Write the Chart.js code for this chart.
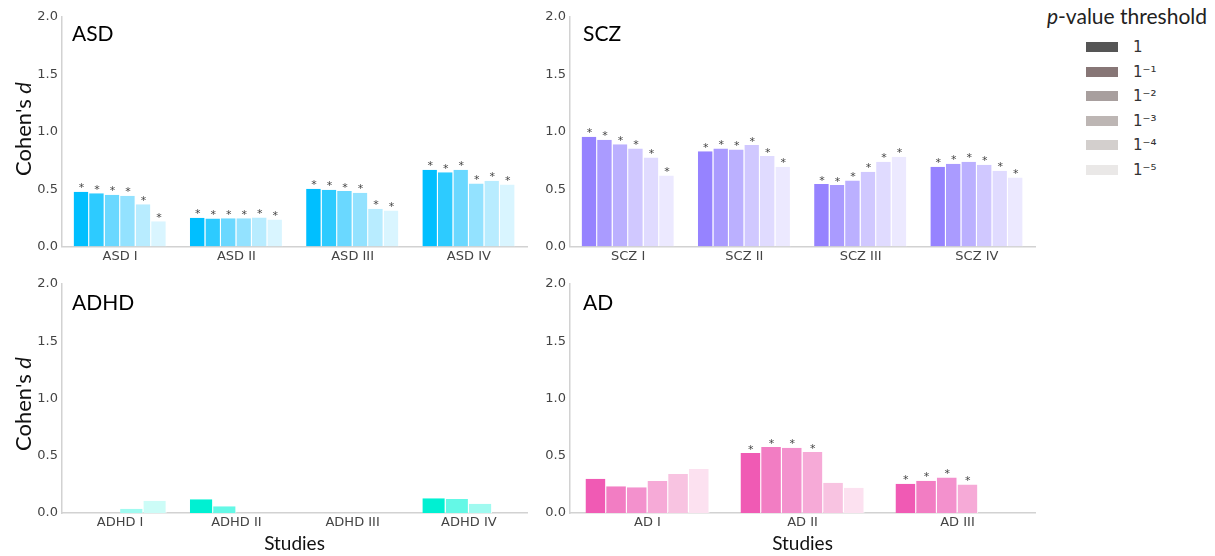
<!DOCTYPE html>
<html>
<head>
<meta charset="utf-8">
<script src="https://cdn.jsdelivr.net/npm/chart.js@4.4.1/dist/chart.umd.min.js"></script>
<style>
  body { margin: 0; background: #fff; width: 1215px; height: 556px; position: relative; overflow: hidden; font-family: Lato, sans-serif; }
  canvas { position: absolute; }
  .name { position: absolute; font: 21px Lato, sans-serif; line-height: 21px; color: #000; }
  .ylab { position: absolute; width: 160px; height: 26px; line-height: 26px; text-align: center; font: 22px Lato, sans-serif; color: #111; transform: rotate(-90deg); white-space: nowrap; }
  #legend { position: absolute; left: 1040px; top: 0; width: 175px; }
  #legend .title { position: absolute; right: 8px; top: 3px; font: 21px Lato, sans-serif; color: #222; white-space: nowrap; }
  #legend .row { position: absolute; left: 46px; height: 20px; }
  #legend .sw { position: absolute; left: 0; top: 5px; width: 32px; height: 10px; }
  #legend .lbl { position: absolute; left: 47px; top: 0; font: 15px "DejaVu Sans", sans-serif; line-height: 20px; color: #333; white-space: nowrap; }
</style>
</head>
<body>
<canvas id="asd" width="535" height="268" style="left:0;top:0"></canvas>
<canvas id="scz" width="535" height="268" style="left:508px;top:0"></canvas>
<canvas id="adhd" width="535" height="286" style="left:0;top:270px"></canvas>
<canvas id="ad" width="535" height="286" style="left:508px;top:270px"></canvas>

<div class="name" style="left:72px;top:22px">ASD</div>
<div class="name" style="left:583px;top:22px">SCZ</div>
<div class="name" style="left:72px;top:291px">ADHD</div>
<div class="name" style="left:583px;top:291px">AD</div>

<div class="ylab" style="left:-58px;top:116px">Cohen's <i>d</i></div>
<div class="ylab" style="left:-58px;top:391px">Cohen's <i>d</i></div>

<div id="legend"><div class="title"><i>p</i>-value threshold</div></div>

<script>
// thresholds (legend)
const thresholdLabels = ["1", "1\u207B\u00B9", "1\u207B\u00B2", "1\u207B\u00B3", "1\u207B\u2074", "1\u207B\u2075"];
const legendColors = ["#555555", "#877676", "#A89F9E", "#BDB6B4", "#D3CFCD", "#EAE8E7"];

// ASD
const asdStudies = ["ASD I", "ASD II", "ASD III", "ASD IV"];
const asdP0 = [0.477, 0.250, 0.503, 0.669];
const asdP1 = [0.465, 0.244, 0.494, 0.648];
const asdP2 = [0.451, 0.247, 0.483, 0.669];
const asdP3 = [0.442, 0.247, 0.468, 0.549];
const asdP4 = [0.369, 0.253, 0.328, 0.573];
const asdP5 = [0.221, 0.235, 0.314, 0.541];
const asdStars = [[1, 1, 1, 1], [1, 1, 1, 1], [1, 1, 1, 1], [1, 1, 1, 1], [1, 1, 1, 1], [1, 1, 1, 1]];

// SCZ
const sczStudies = ["SCZ I", "SCZ II", "SCZ III", "SCZ IV"];
const sczP0 = [0.956, 0.831, 0.544, 0.695];
const sczP1 = [0.930, 0.855, 0.535, 0.721];
const sczP2 = [0.892, 0.846, 0.576, 0.738];
const sczP3 = [0.855, 0.884, 0.651, 0.712];
const sczP4 = [0.776, 0.788, 0.738, 0.660];
const sczP5 = [0.619, 0.695, 0.782, 0.602];
const sczStars = [[1, 1, 1, 1], [1, 1, 1, 1], [1, 1, 1, 1], [1, 1, 1, 1], [1, 1, 1, 1], [1, 1, 1, 1]];

// ADHD (four thresholds)
const adhdStudies = ["ADHD I", "ADHD II", "ADHD III", "ADHD IV"];
const adhdP0 = [0, 0.119, 0, 0.128];
const adhdP1 = [0, 0.058, 0, 0.122];
const adhdP2 = [0.038, 0, 0, 0.081];
const adhdP3 = [0.108, 0, 0, 0];
const adhdStars = [[0, 0, 0, 0], [0, 0, 0, 0], [0, 0, 0, 0], [0, 0, 0, 0]];

// AD
const adStudies = ["AD I", "AD II", "AD III"];
const adP0 = [0.299, 0.523, 0.256];
const adP1 = [0.233, 0.576, 0.282];
const adP2 = [0.224, 0.570, 0.311];
const adP3 = [0.279, 0.532, 0.250];
const adP4 = [0.340, 0.265, null];
const adP5 = [0.384, 0.221, null];
const adStars = [[0, 1, 1], [0, 1, 1], [0, 1, 1], [0, 1, 1], [0, 0, 0], [0, 0, 0]];

const asdColors = ["#00BFFF", "#2DCBFF", "#6AD8FF", "#93E2FF", "#B8ECFF", "#D9F5FF"];
const sczColors = ["#9683FF", "#AA9BFF", "#BBB0FF", "#D0C8FF", "#E0DBFF", "#ECE9FF"];
const adhdColors = ["#00F0D2", "#64F8E6", "#A0FAF0", "#CCFCF7"];
const adColors = ["#F05AB4", "#F27DC3", "#F391CD", "#F6AAD7", "#F8C3E1", "#FCE1F0"];

// legend
const legend = document.getElementById("legend");
thresholdLabels.forEach((t, i) => {
  const row = document.createElement("div");
  row.className = "row";
  row.style.top = (37 + i * 24.6) + "px";
  row.innerHTML = `<div class="sw" style="background:${legendColors[i]}"></div><div class="lbl">${t}</div>`;
  legend.append(row);
});

const starPlugin = {
  id: "stars",
  afterDatasetsDraw(chart, args, opts) {
    const ctx = chart.ctx;
    ctx.save();
    ctx.font = '11px "DejaVu Sans"';
    ctx.fillStyle = "#444";
    ctx.textAlign = "center";
    ctx.textBaseline = "alphabetic";
    opts.marks.forEach((row, i) => {
      const meta = chart.getDatasetMeta(i);
      row.forEach((on, j) => {
        if (!on) return;
        const bar = meta.data[j];
        ctx.fillText("*", bar.x, bar.y - 0.5);
      });
    });
    ctx.restore();
  },
};

function makePanel(id, studies, series, colors, stars, bottom) {
  const canvas = document.getElementById(id);
  new Chart(canvas, {
    type: "bar",
    data: {
      labels: studies,
      datasets: series.map((s, i) => ({
        label: thresholdLabels[i],
        data: s,
        backgroundColor: colors[i],
        borderColor: "#ffffff",
        borderWidth: { top: 0, right: 1, bottom: 0, left: 0 },
        borderSkipped: false,
        barPercentage: 1,
        categoryPercentage: 0.8,
      })),
    },
    options: {
      responsive: false,
      animation: false,
      layout: { padding: { top: bottom ? 14 : 17, right: 8, bottom: 0, left: 0 } },
      plugins: {
        legend: { display: false },
        tooltip: { enabled: false },
        stars: { marks: stars },
      },
      scales: {
        x: {
          grid: { display: false, drawTicks: false },
          border: { display: true, color: "#d2d2d2", width: 1.5 },
          ticks: { color: "#444", padding: 2, font: { family: "DejaVu Sans", size: 13 } },
          title: {
            display: bottom,
            text: "Studies",
            color: "#111",
            font: { family: "Lato", size: 19 },
            padding: { top: 0, bottom: 1 },
          },
          afterFit: (scale) => { scale.height = bottom ? 43 : 21.5; },
        },
        y: {
          min: 0,
          max: 2,
          grid: { display: false, drawTicks: false },
          border: { display: true, color: "#d2d2d2", width: 1.5 },
          ticks: {
            stepSize: 0.5,
            color: "#444",
            padding: 4,
            font: { family: "DejaVu Sans", size: 13 },
            callback: (v) => Number(v).toFixed(1),
          },
          afterFit: (scale) => { scale.width = 62; },
        },
      },
    },
    plugins: [starPlugin],
  });
}

makePanel("asd", asdStudies, [asdP0, asdP1, asdP2, asdP3, asdP4, asdP5], asdColors, asdStars, false);
makePanel("scz", sczStudies, [sczP0, sczP1, sczP2, sczP3, sczP4, sczP5], sczColors, sczStars, false);
makePanel("adhd", adhdStudies, [adhdP0, adhdP1, adhdP2, adhdP3], adhdColors, adhdStars, true);
makePanel("ad", adStudies, [adP0, adP1, adP2, adP3, adP4, adP5], adColors, adStars, true);
</script>
</body>
</html>
